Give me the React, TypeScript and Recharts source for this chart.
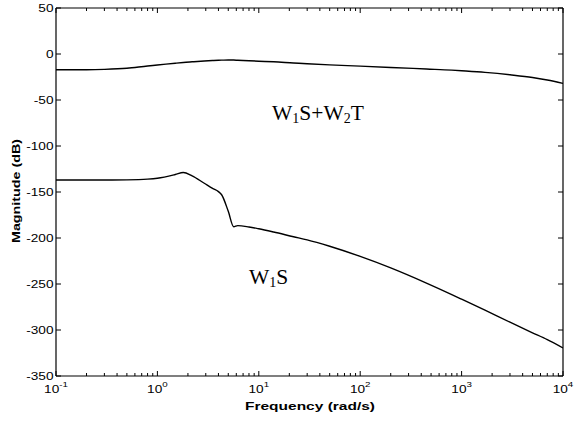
import React from 'react';
import { LineChart, Line, XAxis, YAxis } from 'recharts';

const freq = [0.1, 0.2, 0.3, 0.5, 0.8, 1, 1.5, 1.8, 2.2, 2.9, 3.5, 4, 4.3, 5, 5.65, 6.2, 8, 10, 14, 22, 30, 50, 100, 200, 450, 800, 1000, 1700, 3000, 5000, 7000, 10000];
const w1sPlusW2t = [-17.2, -17.1, -16.7, -15.5, -13, -12, -10, -9.2, -8.5, -7.6, -7.1, -6.8, -6.7, -6.5, -6.6, -6.8, -7.3, -7.8, -8.5, -9.8, -10.6, -11.8, -13.2, -14.6, -16.3, -17.5, -18.2, -20, -22.6, -25.5, -28.3, -32];
const w1s = [-137, -137, -137, -136.8, -136, -135, -131, -128.8, -132.5, -140.5, -146, -149.6, -153, -171, -187.7, -186.5, -188, -190, -193.5, -198.6, -202, -209, -220, -232.5, -249, -261.5, -266.5, -278.5, -291.5, -303, -310.5, -319.5];

const decadeTicks = [0.1, 1, 10, 100, 1000, 10000];
const decadeExp = ['-1', '0', '1', '2', '3', '4'];
const minorTicks = [0.2, 0.3, 0.4, 0.5, 0.6, 0.7, 0.8, 0.9, 2, 3, 4, 5, 6, 7, 8, 9, 20, 30, 40, 50, 60, 70, 80, 90, 200, 300, 400, 500, 600, 700, 800, 900, 2000, 3000, 4000, 5000, 6000, 7000, 8000, 9000];
const yTicks = [-350, -300, -250, -200, -150, -100, -50, 0, 50];

const data = freq.map((f, i) => ({ f, a: w1sPlusW2t[i], b: w1s[i] }));
const allXTicks = [...decadeTicks, ...minorTicks].sort((p, q) => p - q);

const SANS = '"Liberation Sans", Arial, sans-serif';
const SERIF = '"Liberation Serif", "Times New Roman", serif';

const isMajor = (v: number) => decadeTicks.some((d) => Math.abs(d - v) < 1e-9);

const BottomTick = (props: any) => {
  const { x, y, payload } = props;
  const v = payload.value;
  const major = isMajor(v);
  const len = major ? 5 : 3;
  const idx = decadeTicks.findIndex((d) => Math.abs(d - v) < 1e-9);
  return (
    <g>
      <line x1={x} y1={y} x2={x} y2={y - len} stroke="#000" strokeWidth={1} />
      {major && (
        <text
          transform={`translate(${x},${y + 17}) scale(1.3,1)`}
          textAnchor="middle"
          fontFamily={SANS}
          fontSize={10.5}
          fill="#000"
        >
          <tspan>10</tspan>
          <tspan dy={-6} fontSize={7.5}>{decadeExp[idx]}</tspan>
        </text>
      )}
    </g>
  );
};

const TopTick = (props: any) => {
  const { x, y, payload } = props;
  const len = isMajor(payload.value) ? 5 : 3;
  return <line x1={x} y1={y} x2={x} y2={y + len} stroke="#000" strokeWidth={1} />;
};

const LeftTick = (props: any) => {
  const { x, y, payload } = props;
  return (
    <g>
      <line x1={x} y1={y} x2={x + 5} y2={y} stroke="#000" strokeWidth={1} />
      <text
        transform={`translate(${x - 2.5},${y + 3.7}) scale(1.3,1)`}
        textAnchor="end"
        fontFamily={SANS}
        fontSize={10.5}
        fill="#000"
      >
        {payload.value}
      </text>
    </g>
  );
};

const RightTick = (props: any) => {
  const { x, y } = props;
  return <line x1={x} y1={y} x2={x - 5} y2={y} stroke="#000" strokeWidth={1} />;
};

export default function App() {
  return (
    <div style={{ position: 'absolute', left: 0, top: 0, width: 574, height: 423, background: '#fff' }}>
      <LineChart width={574} height={423} data={data} margin={{ top: 7, right: 10, bottom: 46, left: 55 }}>
        <XAxis
          dataKey="f"
          type="number"
          scale="log"
          domain={[0.1, 10000]}
          ticks={allXTicks}
          interval={0}
          tickSize={0}
          tickMargin={0}
          tickLine={false}
          tick={<BottomTick />}
          height={1}
          axisLine={{ stroke: '#000', strokeWidth: 1.2 }}
          allowDataOverflow
        />
        <XAxis
          xAxisId="top"
          orientation="top"
          dataKey="f"
          type="number"
          scale="log"
          domain={[0.1, 10000]}
          ticks={allXTicks}
          interval={0}
          tickSize={0}
          tickMargin={0}
          tickLine={false}
          tick={<TopTick />}
          height={1}
          axisLine={{ stroke: '#000', strokeWidth: 1.2 }}
          allowDataOverflow
        />
        <YAxis
          type="number"
          domain={[-350, 50]}
          ticks={yTicks}
          interval={0}
          tickSize={0}
          tickMargin={0}
          tickLine={false}
          tick={<LeftTick />}
          width={1}
          axisLine={{ stroke: '#000', strokeWidth: 1.2 }}
          allowDataOverflow
        />
        <YAxis
          yAxisId="right"
          orientation="right"
          type="number"
          domain={[-350, 50]}
          ticks={yTicks}
          interval={0}
          tickSize={0}
          tickMargin={0}
          tickLine={false}
          tick={<RightTick />}
          width={1}
          axisLine={{ stroke: '#000', strokeWidth: 1.2 }}
          allowDataOverflow
        />
        <Line type="monotone" dataKey="a" stroke="#000" strokeWidth={1.4} dot={false} isAnimationActive={false} />
        <Line type="monotone" dataKey="b" stroke="#000" strokeWidth={1.4} dot={false} isAnimationActive={false} />
        <Line xAxisId="top" yAxisId="right" dataKey="a" stroke="none" dot={false} activeDot={false} isAnimationActive={false} />
      </LineChart>
      <svg width={574} height={423} style={{ position: 'absolute', left: 0, top: 0, pointerEvents: 'none' }}>
        <text x={310} y={410} textAnchor="middle" fontFamily={SANS} fontWeight="bold" fontSize={11.5} textLength={130} lengthAdjust="spacingAndGlyphs" fill="#000">
          Frequency (rad/s)
        </text>
        <text transform="translate(20,191) rotate(-90)" textAnchor="middle" fontFamily={SANS} fontWeight="bold" fontSize={11} textLength={104} lengthAdjust="spacingAndGlyphs" fill="#000">
          Magnitude (dB)
        </text>
        <text x={272} y={119.5} fontFamily={SERIF} fontSize={21.5} fill="#000">
          <tspan>W</tspan>
          <tspan dy={3.5} fontSize={14}>1</tspan>
          <tspan dy={-3.5}>S+W</tspan>
          <tspan dy={3.5} fontSize={14}>2</tspan>
          <tspan dy={-3.5}>T</tspan>
        </text>
        <text x={249} y={283.5} fontFamily={SERIF} fontSize={21.5} fill="#000">
          <tspan>W</tspan>
          <tspan dy={3.5} fontSize={14}>1</tspan>
          <tspan dy={-3.5}>S</tspan>
        </text>
      </svg>
    </div>
  );
}
